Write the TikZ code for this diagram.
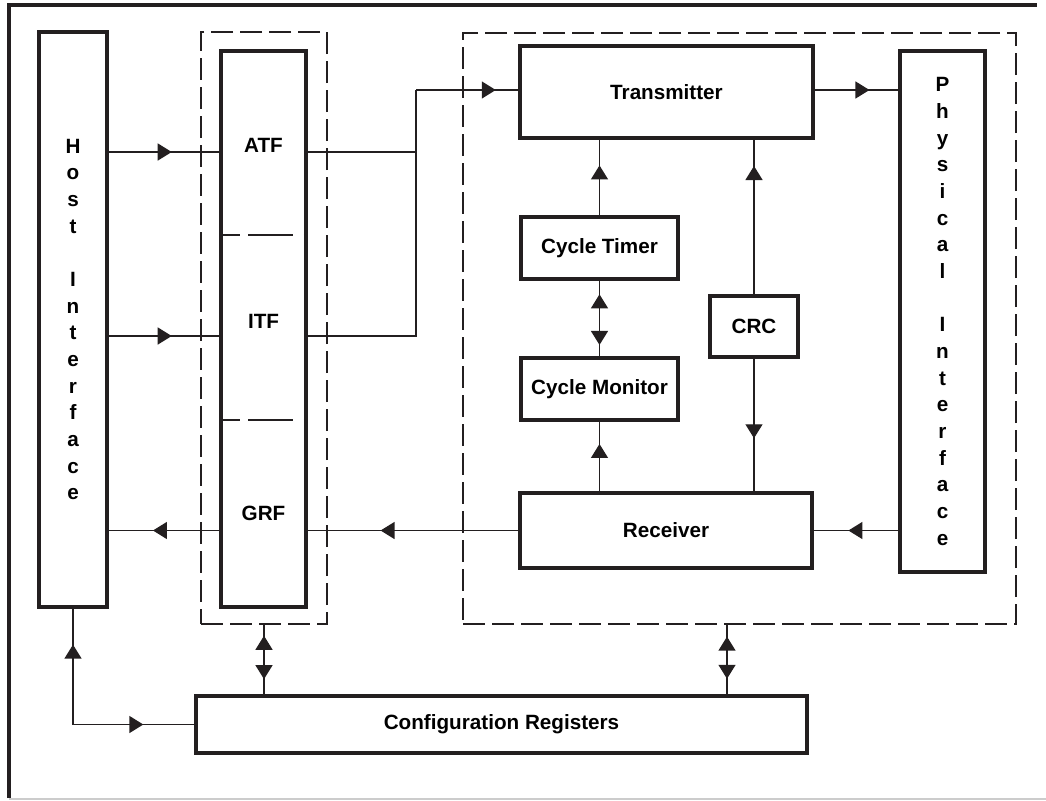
\documentclass[tikz,border=0pt]{standalone}
\usepackage{fontspec}
\setmainfont{Liberation Sans}
\usetikzlibrary{arrows.meta,decorations.markings}
\definecolor{ink}{RGB}{35,31,32}
\begin{document}
\begin{tikzpicture}[x=0.75pt,y=-0.75pt,line join=miter,font=\fontsize{15.5}{20}\selectfont\bfseries,
	>={Triangle[length=10.5pt,width=12.75pt]},
	block/.style={draw=ink,line width=2.6pt,inner sep=0pt,align=center},
	dashgroup/.style={draw=ink,line width=2.2pt,dash pattern=on 16.5pt off 5.25pt,inner sep=0pt},
	wire/.style={draw=ink,line width=1pt},
	flow/.style={wire,postaction=decorate,decoration={markings,mark=at position #1 with {\arrow{>}}}},
	twoway/.style 2 args={wire,postaction=decorate,decoration={markings,mark=at position #1 with {\arrow{>}},mark=at position #2 with {\arrowreversed{>}}}}]
		\useasboundingbox (0,0) rectangle (1046,800);
		\draw[ink,line width=2.8pt] (9,798) -- (9,5) -- (1037,5);
		\draw[black!20,line width=0.8pt] (9,799) -- (1046,799);
		\node[block,minimum width=51pt,minimum height=431.25pt] (host) at (73,319.5) {H\\o\\s\\t\\\mbox{}\\I\\n\\t\\e\\r\\f\\a\\c\\e};
		\node[dashgroup,minimum width=94.5pt,minimum height=444pt] (fifogroup) at (264,328) {};
		\node[block,minimum width=63.75pt,minimum height=417pt] (fifo) at (263.5,329) {};
		\node (atf) at (263.5,145) {ATF};
		\node (itf) at (263.5,321) {ITF};
		\node (grf) at (263.5,513) {GRF};
		\coordinate (sepA) at (0,235);
		\coordinate (sepB) at (0,420);
		\draw[wire,dash pattern=on 15.75pt off 6pt on 33.75pt off 8pt] (fifo.west|-sepA) -- (fifo.east|-sepA);
		\draw[wire,dash pattern=on 15.75pt off 6pt on 33.75pt off 8pt] (fifo.west|-sepB) -- (fifo.east|-sepB);
		\node[dashgroup,minimum width=414.75pt,minimum height=443.25pt] (linkgroup) at (739.5,328.5) {};
		\node[block,minimum width=219.75pt,minimum height=69pt] (tx) at (666.5,92) {Transmitter};
		\node[block,minimum width=63.75pt,minimum height=390.75pt] (phy) at (942.5,311.5) {P\\h\\y\\s\\i\\c\\a\\l\\\mbox{}\\I\\n\\t\\e\\r\\f\\a\\c\\e};
		\node[block,minimum width=117.75pt,minimum height=46.5pt] (timer) at (599.5,248) {Cycle Timer};
		\node[block,minimum width=117.75pt,minimum height=46.5pt] (monitor) at (599.5,389) {Cycle Monitor};
		\node[block,minimum width=66pt,minimum height=45.75pt] (crc) at (754,326.5) {CRC};
		\node[block,minimum width=219pt,minimum height=56.25pt] (rx) at (666,530.5) {Receiver};
		\node[block,minimum width=458.25pt,minimum height=42.75pt] (config) at (501.5,724.5) {Configuration Registers};
		\coordinate (atfrow) at (0,152);
		\coordinate (itfrow) at (0,336);
		\coordinate (bus) at (416,90);
		\coordinate (lnk) at (727,624);
		\coordinate (corner) at (host.south|-config.west);
		\draw[flow=0.57] (host.east|-atfrow) -- (fifo.west|-atfrow);
		\draw[flow=0.57] (host.east|-itfrow) -- (fifo.west|-itfrow);
		\draw[flow=0.6] (fifo.west|-rx.west) -- (host.east|-rx.west);
		\draw[wire] (fifo.east|-atfrow) -- (bus|-atfrow);
		\draw[wire] (fifo.east|-itfrow) -| (bus);
		\draw[flow=0.78] (bus) -- (tx.west|-bus);
		\draw[flow=0.655] (tx.east|-bus) -- (phy.west|-bus);
		\draw[flow=0.59] (phy.west|-rx.east) -- (rx.east);
		\draw[flow=0.654] (rx.west) -- (rx.west-|fifo.east);
		\draw[flow=0.66] (timer.north) -- (timer.north|-tx.south);
		\draw[flow=0.83] (crc.north) -- (crc.north|-tx.south);
		\draw[flow=0.6] (crc.south) -- (crc.south|-rx.north);
		\draw[flow=0.68] (monitor.south|-rx.north) -- (monitor.south);
		\draw[twoway={0.82}{0.15}] (monitor.north) -- (timer.south);
		\draw[twoway={0.85}{0.22}] (config.north-|fifogroup.south) -- (fifogroup.south);
		\draw[twoway={0.82}{0.22}] (lnk|-config.north) -- (lnk);
		\draw[flow=0.69] (corner) -- (host.south);
		\draw[flow=0.58] (corner) -- (config.west);
	\end{tikzpicture}
\end{document}
